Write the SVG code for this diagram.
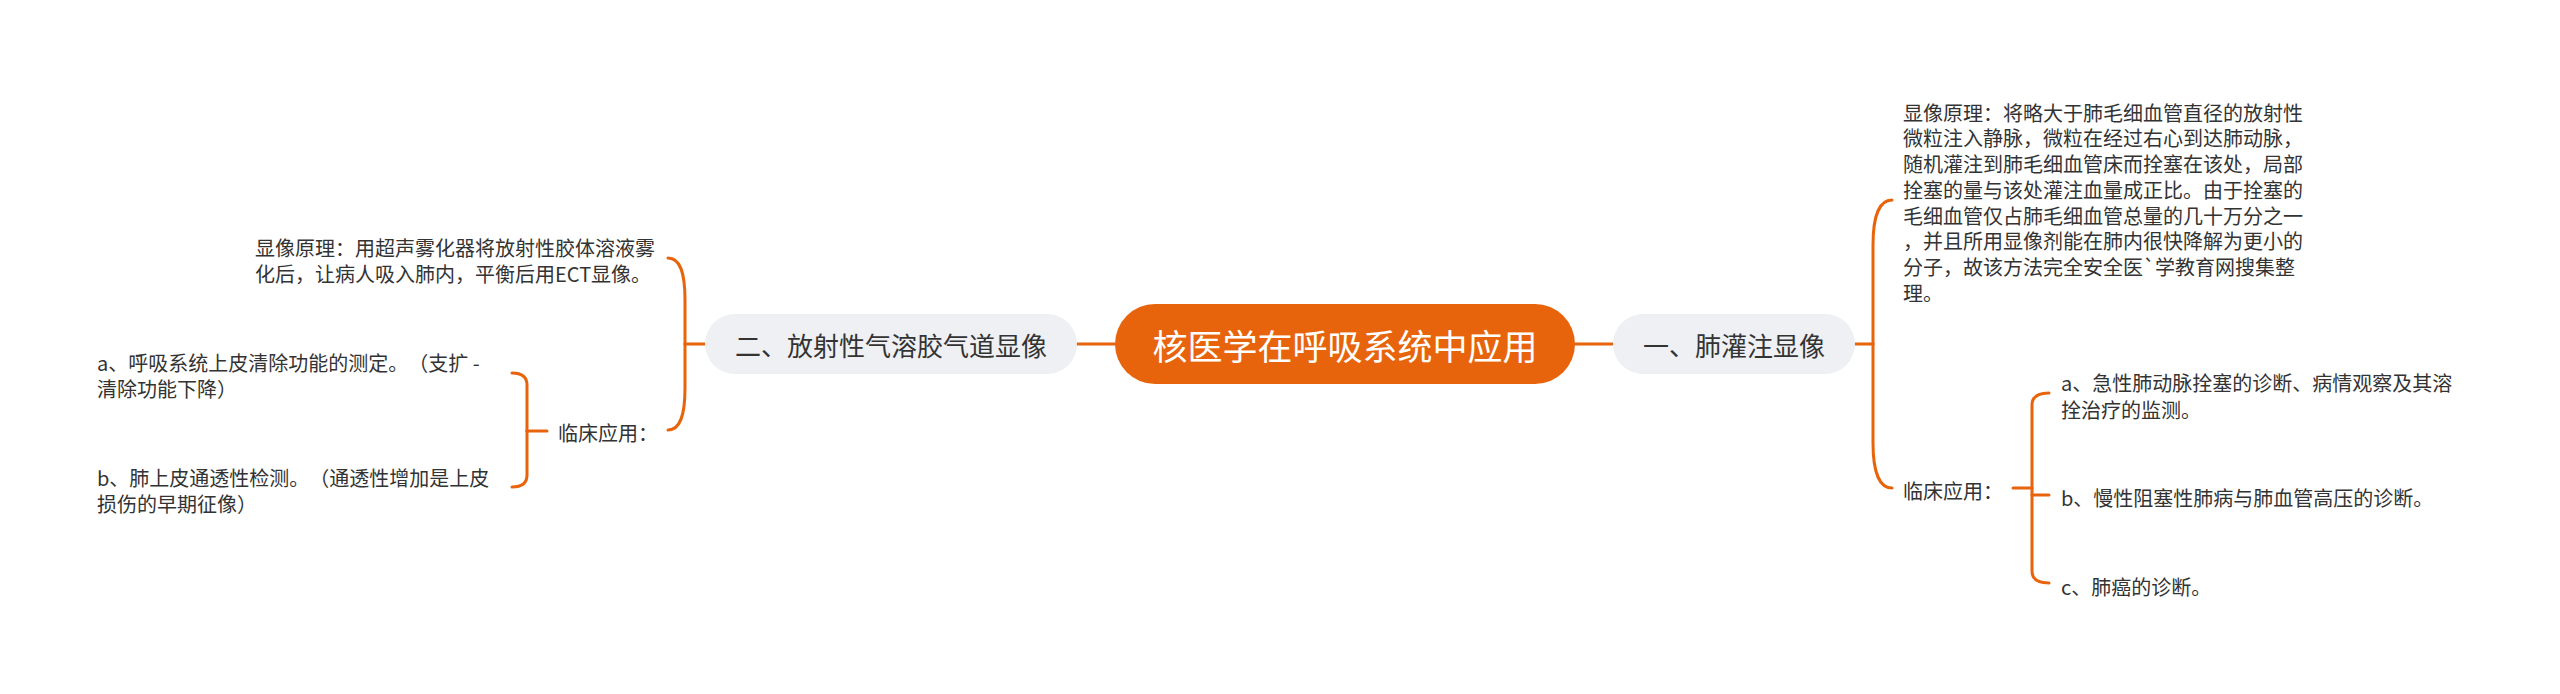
<svg xmlns="http://www.w3.org/2000/svg" width="2560" height="694" viewBox="0 0 2560 694">
<style>
text{text-spacing-trim:space-all}
.t{font-family:"Noto Sans CJK SC","Noto Sans",sans-serif;fill:#333333;dominant-baseline:central}
.s{font-size:20px}
.m{font-size:26px;text-anchor:middle}
.r{font-family:"Noto Sans CJK SC","Noto Sans",sans-serif;font-size:35px;fill:#ffffff;text-anchor:middle;dominant-baseline:central}
.c{fill:none;stroke:#E8640C;stroke-width:3;stroke-linecap:round;stroke-linejoin:round}
.pill{fill:#EEF0F3}
</style>
<rect width="2560" height="694" fill="#ffffff"/>
<g id="connectors">
<path class="c" d="M1077,344 L1115,344"/>
<path class="c" d="M1575,344 L1613,344"/>
<path class="c" d="M705,344 L685,344"/>
<path class="c" d="M685,344 L685,300 C685,272 680,258 668,258"/>
<path class="c" d="M685,344 L685,388 C685,416 680,430 668,430"/>
<path class="c" d="M547,431 L527,431"/>
<path class="c" d="M527,431 L527,385 Q527,373 512,373"/>
<path class="c" d="M527,431 L527,475 Q527,487 512,487"/>
<path class="c" d="M1855,344 L1873,344"/>
<path class="c" d="M1873,344 L1873,245 C1873,215 1880,200 1892,200"/>
<path class="c" d="M1873,344 L1873,443 C1873,473 1880,488 1892,488"/>
<path class="c" d="M2013,488 L2032,488"/>
<path class="c" d="M2032,488 L2032,405 Q2032,393 2049,393"/>
<path class="c" d="M2032,495 L2049,495"/>
<path class="c" d="M2032,488 L2032,571 Q2032,583 2049,583"/>
</g>
<g id="root">
<rect x="1115" y="304" width="460" height="80" rx="40" fill="#E8640C"/>
<text class="r" x="1345" y="344">核医学在呼吸系统中应用</text>
</g>
<g id="node-left">
<rect class="pill" x="705" y="314" width="372" height="60" rx="30"/>
<text class="t m" x="891" y="344">二、放射性气溶胶气道显像</text>
</g>
<g id="node-right">
<rect class="pill" x="1613" y="314" width="242" height="60" rx="30"/>
<text class="t m" x="1734" y="344">一、肺灌注显像</text>
</g>
<g id="left-principle">
<text class="t s" x="255"><tspan x="255" y="247">显像原理：用超声雾化器将放射性胶体溶液雾</tspan><tspan x="255" y="273">化后，让病人吸入肺内，平衡后用ECT显像。</tspan></text>
</g>
<g id="left-clinical">
<text class="t s" x="558" y="432">临床应用：</text>
</g>
<g id="left-item-a">
<text class="t s"><tspan x="97" y="362">a、呼吸系统上皮清除功能的测定。（支扩 -</tspan><tspan x="97" y="388">清除功能下降）</tspan></text>
</g>
<g id="left-item-b">
<text class="t s"><tspan x="97" y="477">b、肺上皮通透性检测。（通透性增加是上皮</tspan><tspan x="97" y="503">损伤的早期征像）</tspan></text>
</g>
<g id="right-principle">
<text class="t s"><tspan x="1903" y="111.7">显像原理：将略大于肺毛细血管直径的放射性</tspan><tspan x="1903" y="137.4">微粒注入静脉，微粒在经过右心到达肺动脉，</tspan><tspan x="1903" y="163.1">随机灌注到肺毛细血管床而拴塞在该处，局部</tspan><tspan x="1903" y="188.8">拴塞的量与该处灌注血量成正比。由于拴塞的</tspan><tspan x="1903" y="214.5">毛细血管仅占肺毛细血管总量的几十万分之一</tspan><tspan x="1903" y="240.2">，并且所用显像剂能在肺内很快降解为更小的</tspan><tspan x="1903" y="265.9">分子，故该方法完全安全医`学教育网搜集整</tspan><tspan x="1903" y="291.6">理。</tspan></text>
</g>
<g id="right-clinical">
<text class="t s" x="1903" y="490">临床应用：</text>
</g>
<g id="right-item-a">
<text class="t s"><tspan x="2061" y="382">a、急性肺动脉拴塞的诊断、病情观察及其溶</tspan><tspan x="2061" y="409">拴治疗的监测。</tspan></text>
</g>
<g id="right-item-b">
<text class="t s" x="2061" y="497">b、慢性阻塞性肺病与肺血管高压的诊断。</text>
</g>
<g id="right-item-c">
<text class="t s" x="2061" y="586">c、肺癌的诊断。</text>
</g>
</svg>
